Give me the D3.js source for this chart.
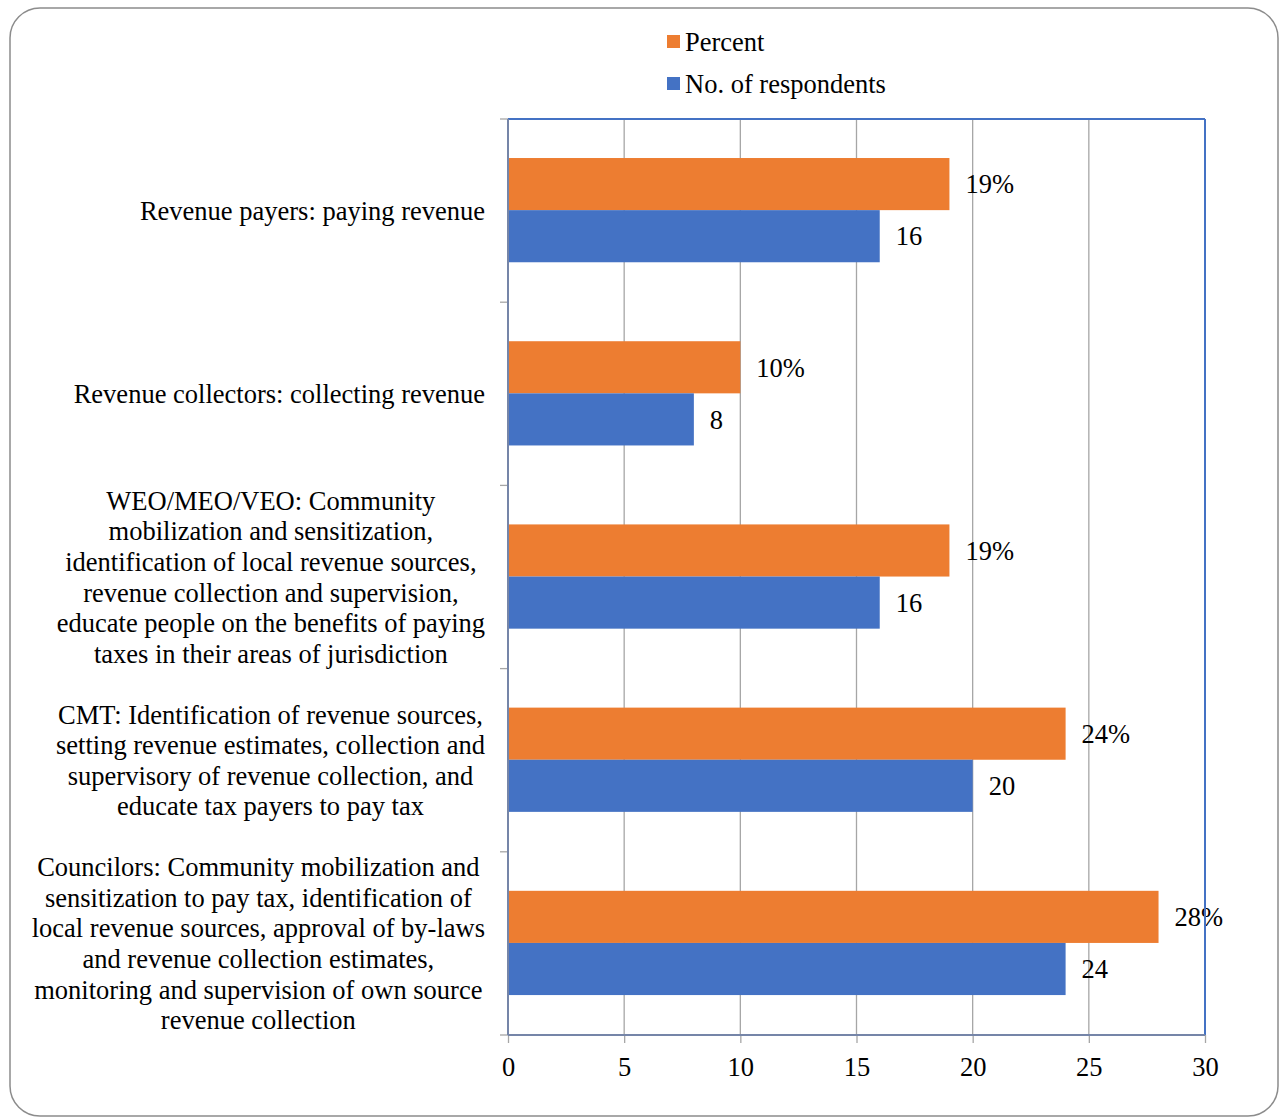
<!DOCTYPE html>
<html><head><meta charset="utf-8">
<script src="https://cdn.jsdelivr.net/npm/d3@7"></script>
<style>body{margin:0;background:#fff}svg{display:block}</style>
</head><body>
<svg id="c" width="1280" height="1120"></svg>
<script>
const categories = [
  ["Revenue payers: paying revenue"],
  ["Revenue collectors: collecting revenue"],
  ["WEO/MEO/VEO: Community","mobilization and sensitization,","identification of local revenue sources,","revenue collection and supervision,","educate people on the benefits of paying","taxes in their areas of jurisdiction"],
  ["CMT: Identification of revenue sources,","setting revenue estimates, collection and","supervisory of revenue collection, and","educate tax payers to pay tax"],
  ["Councilors: Community mobilization and","sensitization to pay tax, identification of","local revenue sources, approval of by-laws","and revenue collection estimates,","monitoring and supervision of own source","revenue collection"]
];
const percentValues = [19, 10, 19, 24, 28];
const respondentValues = [16, 8, 16, 20, 24];
const xTicks = [0, 5, 10, 15, 20, 25, 30];
const seriesNames = ["Percent", "No. of respondents"];
const seriesColors = ["#ED7D31", "#4472C4"];

const svg = d3.select("#c");
const font = "'Liberation Serif','Times New Roman',serif";
const fs = 26.5;

svg.append("rect").attr("x",10).attr("y",8).attr("width",1268).attr("height",1108)
  .attr("rx",30).attr("fill","#fff").attr("stroke","#8c8c8c").attr("stroke-width",1.5);

const L=508, R=1205, T=119, B=1035;
const x = d3.scaleLinear().domain([0,30]).range([L,R]);
const y = d3.scaleBand().domain(d3.range(categories.length)).range([T,B]);
const inner = d3.scaleBand().domain([0,1]).range([y.bandwidth()*0.213, y.bandwidth()*0.782]);

// gridlines
svg.append("g").selectAll("line").data(xTicks.filter(t=>t>0 && t<30)).join("line")
  .attr("x1",d=>x(d)).attr("x2",d=>x(d)).attr("y1",T).attr("y2",B)
  .attr("stroke","#a6a6a6").attr("stroke-width",1.3);

// bars
const series = [percentValues, respondentValues];
series.forEach((vals, si) => {
  svg.append("g").selectAll("rect").data(vals).join("rect")
    .attr("x", x(0)).attr("y",(d,i)=>y(i)+inner(si))
    .attr("width", d=>x(d)-x(0)).attr("height", inner.bandwidth())
    .attr("fill", seriesColors[si]);
  svg.append("g").selectAll("text").data(vals).join("text")
    .attr("x", d=>x(d)+16).attr("y",(d,i)=>y(i)+inner(si)+inner.bandwidth()/2)
    .attr("dy","0.35em").attr("font-family",font).attr("font-size",fs).attr("fill","#000")
    .text(d=> si===0 ? d+"%" : d);
});

// frame: top and right blue
svg.append("line").attr("x1",L).attr("x2",R).attr("y1",T).attr("y2",T).attr("stroke","#4472C4").attr("stroke-width",2);
svg.append("line").attr("x1",R).attr("x2",R).attr("y1",T).attr("y2",B).attr("stroke","#4472C4").attr("stroke-width",2);

// bottom axis
const xAxis = d3.axisBottom(x).tickValues(xTicks).tickSize(8).tickPadding(14);
const gx = svg.append("g").attr("transform",`translate(0,${B})`).call(xAxis);
gx.select(".domain").remove();
gx.selectAll(".tick line").attr("stroke","#a6a6a6").attr("stroke-width",1.3);
gx.selectAll(".tick text").attr("font-family",font).attr("font-size",fs).attr("fill","#000");
svg.append("line").attr("x1",L).attr("x2",R).attr("y1",B).attr("y2",B).attr("stroke","#7585a8").attr("stroke-width",2);

// left axis ticks at category boundaries
const bounds = d3.range(categories.length+1).map(i=>T+i*y.step());
svg.append("g").selectAll("line").data(bounds).join("line")
  .attr("x1",L-8).attr("x2",L).attr("y1",d=>d).attr("y2",d=>d)
  .attr("stroke","#a6a6a6").attr("stroke-width",1.3);
svg.append("line").attr("x1",L).attr("x2",L).attr("y1",T).attr("y2",B).attr("stroke","#7585a8").attr("stroke-width",2);

// category labels
const lh = 30.6;
categories.forEach((lines,i)=>{
  const g = svg.append("g");
  const cy = y(i)+y.bandwidth()/2;
  const texts = lines.map((ln,k)=> g.append("text").attr("font-family",font).attr("font-size",fs)
    .attr("fill","#000").attr("text-anchor","middle")
    .attr("y", cy + (k-(lines.length-1)/2)*lh).attr("dy","0.35em").text(ln));
  const maxW = d3.max(texts, t=>t.node().getComputedTextLength());
  texts.forEach(t=>t.attr("x", 485 - maxW/2));
});

// legend
seriesNames.forEach((n,i)=>{
  const ly = 42 + i*42;
  svg.append("rect").attr("x",667).attr("y",ly-7).attr("width",13).attr("height",13).attr("fill",seriesColors[i]);
  svg.append("text").attr("x",685).attr("y",ly).attr("dy","0.35em").attr("font-family",font)
    .attr("font-size",fs).attr("fill","#000").text(n);
});
</script>
</body></html>
